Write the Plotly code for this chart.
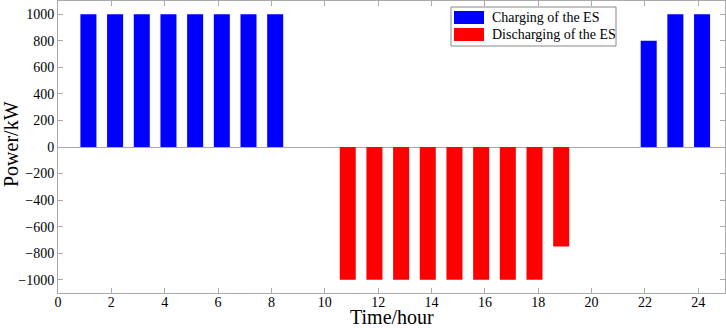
import plotly.graph_objects as go

hours = list(range(1, 25))
charging = [1000, 1000, 1000, 1000, 1000, 1000, 1000, 1000, 0, 0, 0, 0,
            0, 0, 0, 0, 0, 0, 0, 0, 0, 800, 1000, 1000]
discharging = [0, 0, 0, 0, 0, 0, 0, 0, 0, 0, -1000, -1000,
               -1000, -1000, -1000, -1000, -1000, -1000, -750, 0, 0, 0, 0, 0]
series_names = ["Charging of the ES", "Discharging of the ES"]
colors = ["#0000FF", "#FF0000"]
x_ticks = list(range(0, 25, 2))
y_ticks = list(range(-1000, 1001, 200))
x_title = "Time/hour"
y_title = "Power/kW"

W, H = 726, 328
ml, mr, mt, mb = 58, 1, 1, 35
pw, ph = W - ml - mr, H - mt - mb
FONT = "Liberation Serif"

fig = go.Figure()
fig.add_trace(go.Bar(x=hours, y=charging, name=series_names[0], marker_color=colors[0],
                     marker_line_width=0, width=0.6, offset=-0.16, showlegend=False))
fig.add_trace(go.Bar(x=hours, y=discharging, name=series_names[1], marker_color=colors[1],
                     marker_line_width=0, width=0.6, offset=-0.44, showlegend=False))

def px(x):
    return (x - ml) / pw

def py(y):
    return (H - mb - y) / ph

shapes = []
annotations = []
# legend box
shapes.append(dict(type="rect", xref="paper", yref="paper",
                   x0=px(451), x1=px(616), y0=py(46), y1=py(7),
                   line=dict(color="#888888", width=1), fillcolor="white"))
for i, (name, c) in enumerate(zip(series_names, colors)):
    y0 = 11 + i * 17
    shapes.append(dict(type="rect", xref="paper", yref="paper",
                       x0=px(454), x1=px(484), y0=py(y0 + 13), y1=py(y0),
                       line=dict(width=0), fillcolor=c))
    annotations.append(dict(xref="paper", yref="paper", x=px(490), y=py(y0 + 6.5),
                            text=name, showarrow=False, xanchor="left", yanchor="middle",
                            font=dict(family=FONT, size=14, color="black")))

# axis titles
annotations.append(dict(xref="paper", yref="paper", x=px(392), y=py(317),
                        text=x_title, showarrow=False, xanchor="center", yanchor="middle",
                        font=dict(family=FONT, size=20, color="black")))
annotations.append(dict(xref="paper", yref="paper", x=px(11), y=py(144),
                        text=y_title, showarrow=False, xanchor="center", yanchor="middle",
                        textangle=-90, font=dict(family=FONT, size=20, color="black")))

fig.update_layout(
    width=W, height=H,
    margin=dict(l=ml, r=mr, t=mt, b=mb, autoexpand=False),
    plot_bgcolor="white", paper_bgcolor="white",
    barmode="overlay",
    font=dict(family=FONT, size=14, color="black"),
    shapes=shapes, annotations=annotations,
    xaxis=dict(range=[0, 25], tickvals=x_ticks, ticks="inside", ticklen=5,
               tickcolor="#aaaaaa", showline=True, linecolor="#aaaaaa", mirror="ticks",
               showgrid=False, zeroline=False, automargin=False, ticklabelstandoff=-4,
               tickfont=dict(family=FONT, size=14, color="black")),
    yaxis=dict(range=[-1100, 1100], tickvals=y_ticks, ticks="inside", ticklen=5,
               tickcolor="#aaaaaa", showline=True, linecolor="#aaaaaa", mirror="ticks",
               showgrid=False, zeroline=True, zerolinecolor="#aaaaaa", zerolinewidth=1,
               automargin=False, tickfont=dict(family=FONT, size=14, color="black")),
)

fig.write_html("out.html", config={"displayModeBar": False},
               post_script="document.body.style.margin='0px';document.body.style.overflow='hidden';")
